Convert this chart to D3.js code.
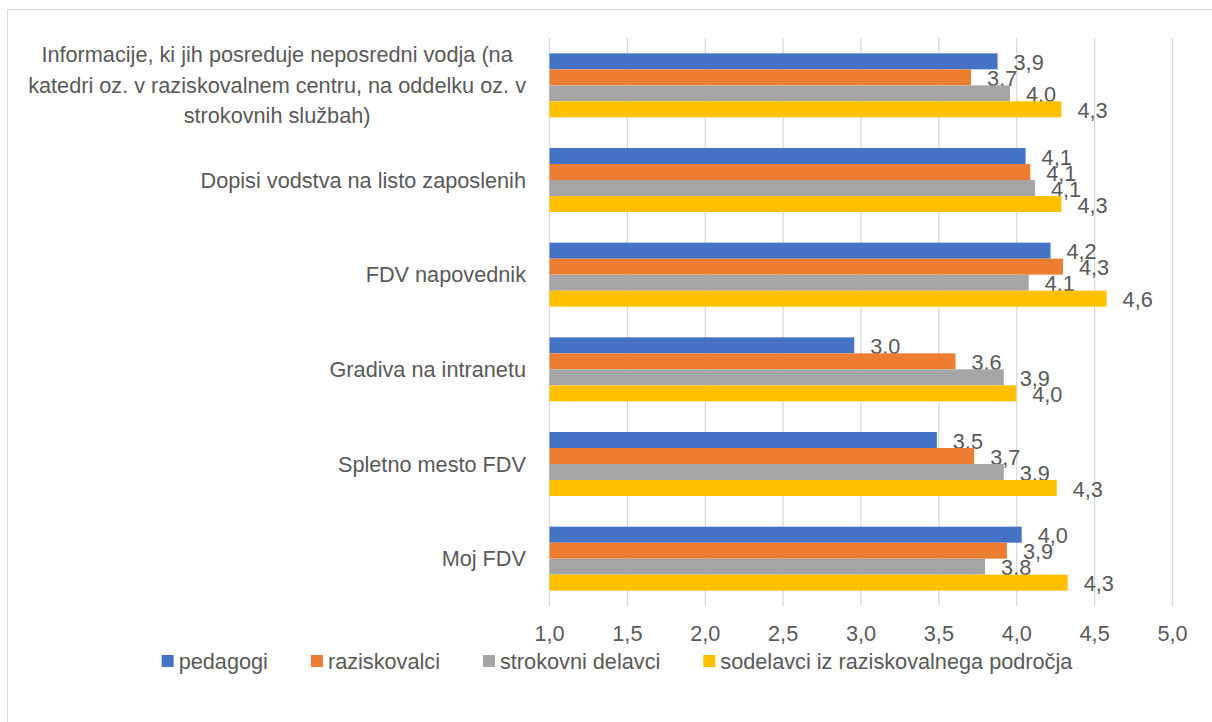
<!DOCTYPE html>
<html>
<head>
<meta charset="utf-8">
<script src="https://cdn.jsdelivr.net/npm/d3@7"></script>
<style>
  body { margin: 0; background: #fff; }
  text { font-family: "Liberation Sans", Arial, sans-serif; fill: #595959; }
</style>
</head>
<body>
<div id="vis"></div>
<script>
const WIDTH = 1212;
const HEIGHT = 722;
const FONT = 21.7;

const categories = [
	'Informacije, ki jih posreduje neposredni vodja (na katedri oz. v raziskovalnem centru, na oddelku oz. v strokovnih službah)',
	'Dopisi vodstva na listo zaposlenih',
	'FDV napovednik',
	'Gradiva na intranetu',
	'Spletno mesto FDV',
	'Moj FDV'
]
const series = ['pedagogi', 'raziskovalci', 'strokovni delavci', 'sodelavci iz raziskovalnega področja']
const colors = ['#4472c4', '#ed7d31', '#a5a5a5', '#ffc000']

// one array per series, same order as categories
const pedagogi = [3.88, 4.06, 4.22, 2.96, 3.49, 4.035]
const raziskovalci = [3.71, 4.09, 4.30, 3.61, 3.73, 3.94]
const strokovni = [3.96, 4.12, 4.08, 3.92, 3.92, 3.80]
const sodelavci = [4.29, 4.29, 4.58, 4.00, 4.26, 4.33]
const values = [pedagogi, raziskovalci, strokovni, sodelavci]

const ticks = [1.0, 1.5, 2.0, 2.5, 3.0, 3.5, 4.0, 4.5, 5.0]

const fmt = v => d3.format('.1f')(v).replace('.', ',')

let svg = d3.select('#vis')
	.append('svg')
	.attr('width', WIDTH)
	.attr('height', HEIGHT)

// chart frame (only top and left edges are in view)
svg.append('line')
	.attr('x1', 7.5).attr('x2', WIDTH).attr('y1', 9.5).attr('y2', 9.5)
	.attr('stroke', '#d9d9d9')
svg.append('line')
	.attr('x1', 7.5).attr('x2', 7.5).attr('y1', 9.5).attr('y2', HEIGHT)
	.attr('stroke', '#d9d9d9')

let x = d3.scaleLinear()
	.domain([1, 5])
	.range([549, 1172])

let y = d3.scaleBand()
	.domain(categories)
	.range([38, 606])
	.paddingInner(0.324)
	.paddingOuter(0.162)

let ySub = d3.scaleBand()
	.domain(series)
	.range([0, y.bandwidth()])

// gridlines
let xAxis = d3.axisBottom(x)
	.tickValues(ticks)
	.tickSize(606 - 38)
	.tickFormat(fmt)

svg.append('g')
	.attr('class', 'x-axis')
	.attr('transform', 'translate(0,38)')
	.call(xAxis)
	.call(g => g.select('.domain').remove())
	.call(g => g.selectAll('.tick line').attr('stroke', '#d9d9d9').attr('stroke-width', 1.3))
	.call(g => g.selectAll('.tick text')
		.attr('y', 633 - 38)
		.attr('dy', '0.35em')
		.style('font-size', FONT + 'px')
		.attr('fill', '#595959'))

// bars
series.forEach((s, si) => {
	let rows = categories.map((c, ci) => ({ cat: c, value: values[si][ci] }))

	svg.append('g')
		.selectAll('rect')
		.data(rows)
		.enter()
		.append('rect')
			.attr('x', x(1) + 0.5)
			.attr('y', d => y(d.cat) + ySub(s))
			.attr('width', d => x(d.value) - x(1) - 0.5)
			.attr('height', ySub.bandwidth())
			.attr('fill', colors[si])

	svg.append('g')
		.selectAll('text')
		.data(rows)
		.enter()
		.append('text')
			.attr('x', d => x(d.value) + 16)
			.attr('y', d => y(d.cat) + ySub(s) + ySub.bandwidth() / 2 + 1)
			.attr('dy', '0.35em')
			.style('font-size', FONT + 'px')
			.text(d => fmt(d.value))
})

// category labels, wrapped like the spreadsheet does
const LABEL_RIGHT = 526
const LABEL_MAX = 500
const LINE_H = 30.5

let catLabels = svg.append('g')

categories.forEach(c => {
	let t = catLabels.append('text')
		.style('font-size', FONT + 'px')
	let words = c.split(' ')
	let lines = []
	let line = ''
	words.forEach(w => {
		let test = line ? line + ' ' + w : w
		t.text(test)
		if (t.node().getComputedTextLength() > LABEL_MAX && line) {
			lines.push(line)
			line = w
		} else {
			line = test
		}
	})
	lines.push(line)
	t.text(null)

	let widths = lines.map(l => {
		t.text(l)
		return t.node().getComputedTextLength()
	})
	t.text(null)
	let maxW = d3.max(widths)
	let cy = y(c) + y.bandwidth() / 2
	let top = cy - (lines.length - 1) * LINE_H / 2

	if (lines.length > 1) {
		t.attr('text-anchor', 'middle')
		lines.forEach((l, i) => {
			t.append('tspan')
				.attr('x', LABEL_RIGHT - maxW / 2)
				.attr('y', top + i * LINE_H)
				.attr('dy', '0.35em')
				.text(l)
		})
	} else {
		t.attr('text-anchor', 'end')
			.attr('x', LABEL_RIGHT)
			.attr('y', cy)
			.attr('dy', '0.35em')
			.text(lines[0])
	}
})

// legend
const LEGEND_Y = 661
const SWATCH = 12
const SWATCH_GAP = 5
const ITEM_GAP = 43

let legend = svg.append('g').attr('class', 'legend')
let items = legend.selectAll('g')
	.data(series)
	.enter()
	.append('g')

items.append('rect')
	.attr('width', SWATCH)
	.attr('height', SWATCH)
	.attr('y', LEGEND_Y - SWATCH / 2)
	.attr('fill', (d, i) => colors[i])

items.append('text')
	.attr('x', SWATCH + SWATCH_GAP)
	.attr('y', LEGEND_Y)
	.attr('dy', '0.35em')
	.style('font-size', FONT + 'px')
	.text(d => d)

let offsets = []
let total = 0
items.each(function () {
	let w = SWATCH + SWATCH_GAP + d3.select(this).select('text').node().getComputedTextLength()
	offsets.push(total)
	total += w + ITEM_GAP
})
total -= ITEM_GAP
let startX = 617 - total / 2
items.attr('transform', (d, i) => `translate(${startX + offsets[i]},0)`)
</script>
</body>
</html>
